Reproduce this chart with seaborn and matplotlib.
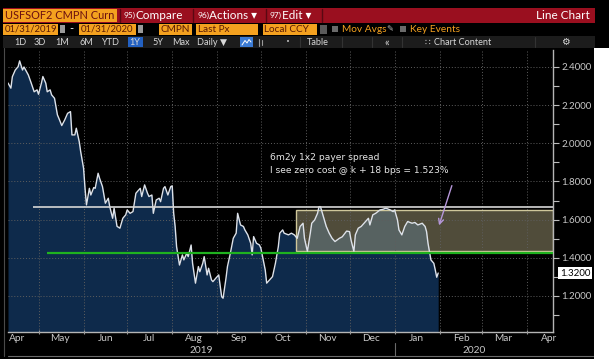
import matplotlib
matplotlib.use("Agg")
import matplotlib.pyplot as plt
import matplotlib.dates as mdates
import matplotlib.ticker as mticker
import matplotlib.transforms as mtrans
from matplotlib.patches import Rectangle
import pandas as pd
import seaborn as sns

# ---------------- data ----------------
dates = ["2019-04-10","2019-04-12","2019-04-13","2019-04-15","2019-04-17","2019-04-18","2019-04-20","2019-04-21",
         "2019-04-24","2019-04-26","2019-04-28","2019-04-30","2019-05-01","2019-05-03","2019-05-04","2019-05-06",
         "2019-05-07","2019-05-09","2019-05-10","2019-05-12","2019-05-14","2019-05-15","2019-05-17","2019-05-19",
         "2019-05-21","2019-05-23","2019-05-24","2019-05-26","2019-05-27","2019-05-29","2019-05-30","2019-06-01",
         "2019-06-02","2019-06-03","2019-06-05","2019-06-06","2019-06-08","2019-06-09","2019-06-11","2019-06-12",
         "2019-06-14","2019-06-16","2019-06-18","2019-06-19","2019-06-21","2019-06-22","2019-06-24","2019-06-26",
         "2019-06-28","2019-06-30","2019-07-01","2019-07-03","2019-07-05","2019-07-07","2019-07-08","2019-07-10",
         "2019-07-11","2019-07-13","2019-07-15","2019-07-16","2019-07-18","2019-07-19","2019-07-21","2019-07-23",
         "2019-07-24","2019-07-26","2019-07-27","2019-07-29","2019-07-31","2019-08-01","2019-08-02","2019-08-03",
         "2019-08-04","2019-08-06","2019-08-07","2019-08-08","2019-08-09","2019-08-11","2019-08-12","2019-08-14",
         "2019-08-15","2019-08-17","2019-08-19","2019-08-20","2019-08-22","2019-08-23","2019-08-25","2019-08-26",
         "2019-08-28","2019-08-29","2019-08-31","2019-09-02","2019-09-04","2019-09-05","2019-09-07","2019-09-08",
         "2019-09-10","2019-09-12","2019-09-14","2019-09-15","2019-09-17","2019-09-19","2019-09-20","2019-09-22",
         "2019-09-24","2019-09-25","2019-09-26","2019-09-28","2019-09-30","2019-10-01","2019-10-04","2019-10-05",
         "2019-10-07","2019-10-09","2019-10-11","2019-10-13","2019-10-14","2019-10-16","2019-10-17","2019-10-20",
         "2019-10-22","2019-10-24","2019-10-26","2019-10-28","2019-10-30","2019-10-31","2019-11-02","2019-11-04",
         "2019-11-05","2019-11-07","2019-11-09","2019-11-10","2019-11-11","2019-11-13","2019-11-15","2019-11-17",
         "2019-11-19","2019-11-21","2019-11-24","2019-11-26","2019-11-29","2019-12-01","2019-12-02","2019-12-04",
         "2019-12-05","2019-12-07","2019-12-09","2019-12-11","2019-12-14","2019-12-15","2019-12-17","2019-12-19",
         "2019-12-22","2019-12-24","2019-12-26","2019-12-29","2019-12-31","2020-01-01","2020-01-03","2020-01-04",
         "2020-01-06","2020-01-08","2020-01-10","2020-01-13","2020-01-15","2020-01-17","2020-01-20","2020-01-22",
         "2020-01-23","2020-01-24","2020-01-26","2020-01-28","2020-01-29","2020-01-30","2020-01-31"]

values = [2.316, 2.289, 2.349, 2.384, 2.402, 2.432, 2.384, 2.400,
          2.358, 2.315, 2.270, 2.280, 2.257, 2.315, 2.350, 2.315,
          2.270, 2.280, 2.254, 2.236, 2.149, 2.131, 2.093, 2.122,
          2.157, 2.166, 2.044, 2.044, 2.079, 2.009, 1.957, 1.869,
          1.764, 1.677, 1.764, 1.729, 1.768, 1.764, 1.843, 1.817,
          1.773, 1.686, 1.712, 1.668, 1.607, 1.660, 1.565, 1.555,
          1.607, 1.625, 1.651, 1.633, 1.642, 1.738, 1.747, 1.764,
          1.721, 1.782, 1.738, 1.721, 1.729, 1.633, 1.703, 1.712,
          1.694, 1.764, 1.773, 1.729, 1.773, 1.777, 1.633, 1.564,
          1.458, 1.362, 1.389, 1.415, 1.389, 1.424, 1.406, 1.467,
          1.371, 1.267, 1.354, 1.327, 1.371, 1.406, 1.310, 1.345,
          1.284, 1.275, 1.293, 1.310, 1.196, 1.188, 1.293, 1.354,
          1.424, 1.502, 1.529, 1.633, 1.572, 1.564, 1.546, 1.520,
          1.476, 1.415, 1.511, 1.476, 1.467, 1.450, 1.336, 1.267,
          1.284, 1.301, 1.371, 1.458, 1.529, 1.546, 1.529, 1.520,
          1.529, 1.520, 1.502, 1.564, 1.581, 1.502, 1.433, 1.529,
          1.581, 1.598, 1.633, 1.668, 1.668, 1.616, 1.564, 1.529,
          1.502, 1.485, 1.502, 1.510, 1.540, 1.537, 1.494, 1.433,
          1.520, 1.555, 1.564, 1.581, 1.607, 1.572, 1.625, 1.633,
          1.651, 1.654, 1.660, 1.651, 1.642, 1.651, 1.598, 1.546,
          1.520, 1.564, 1.590, 1.581, 1.585, 1.572, 1.581, 1.564,
          1.537, 1.476, 1.389, 1.371, 1.336, 1.298, 1.320]

ytick_values = [1.2, 1.4, 1.6, 1.8, 2.0, 2.2, 2.4]
last_value = 1.32
white_level, white_start = 1.668, "2019-04-27"
green_level, green_start = 1.426, "2019-05-07"
box_low, box_high, box_start = 1.437, 1.652, "2019-10-25"
note_lines = ["6m2y 1x2 payer spread", "I see zero cost @ k + 18 bps = 1.523%"]
year_labels = ["2019", "2020"]
ticker = "USFSOF2 CMPN Curn"
start_label, end_label = "01/31/2019", "01/31/2020"
toolbar_items = ["1D", "3D", "1M", "6M", "YTD", "1Y", "5Y", "Max", "Daily \u25bc"]

# ---------------- style ----------------
sns.set_style("ticks")
FONT = ["Lato", "DejaVu Sans"]
plt.rcParams["font.family"] = FONT
plt.rcParams["axes.unicode_minus"] = False

W, H = 609, 359
fig = plt.figure(figsize=(W / 100, H / 100), dpi=100, facecolor="black")

L, R, T, B = 8, 553, 50, 332
ax = fig.add_axes([L / W, 1 - B / H, (R - L) / W, (B - T) / H], facecolor="black")

df = pd.DataFrame({"date": pd.to_datetime(dates), "value": values})

x0 = pd.Timestamp("2019-04-10")
x1 = pd.Timestamp("2020-04-19")
y0, y1 = 1.011, 2.489

ax.fill_between(df["date"], df["value"], y0, color="#0e2a4b", linewidth=0, zorder=1)
sns.lineplot(data=df, x="date", y="value", ax=ax, color="#dde2ea", linewidth=1.0, zorder=4)

# strike box and levels
bx = mdates.date2num(pd.Timestamp(box_start))
ax.add_patch(Rectangle((bx, box_low), mdates.date2num(x1) - bx, box_high - box_low,
                       facecolor=(0.66, 0.63, 0.48, 0.48), edgecolor="#cfc79a", linewidth=1.0, zorder=2))
ax.hlines(white_level, pd.Timestamp(white_start), x1, color="#d6d6d6", linewidth=1.2, zorder=5)
ax.hlines(green_level, pd.Timestamp(green_start), x1, color="#1fb21f", linewidth=1.6, zorder=5)

ax.set_xlim(x0, x1)
ax.set_ylim(y0, y1)
ax.set_xlabel("")
ax.set_ylabel("")

# x axis: ticks at month starts, labels mid-month
ax.xaxis.set_major_locator(mdates.MonthLocator())
ax.xaxis.set_major_formatter(mticker.NullFormatter())
ax.xaxis.set_minor_locator(mdates.MonthLocator(bymonthday=16))
ax.xaxis.set_minor_formatter(mdates.DateFormatter("%b"))
ax.tick_params(axis="x", which="major", length=3, width=0.8, color="#9a9a9a", direction="inout")
ax.tick_params(axis="x", which="minor", length=0, labelsize=7.3, labelcolor="#c9c9c9", pad=1.5)

# y axis on the right
ax.yaxis.tick_right()
ax.set_yticks(ytick_values)
ax.yaxis.set_major_formatter(mticker.FormatStrFormatter("%.4f"))
ax.yaxis.set_minor_locator(mticker.MultipleLocator(0.1))
ax.tick_params(axis="y", which="both", direction="out", length=4, width=0.8, color="#bdbdbd",
               labelcolor="#c9c9c9", labelsize=7.0, pad=2)

ax.set_axisbelow(False)
ax.grid(True, which="major", color="#5e5e5e", linestyle=(0, (1, 2)), linewidth=0.7)
ax.grid(False, which="minor")

for s in ["top", "left"]:
    ax.spines[s].set_visible(False)
for s in ["right", "bottom"]:
    ax.spines[s].set_color("#b5b5b5")
    ax.spines[s].set_linewidth(1.0)

# last value tag
ax.annotate(f"{last_value:.4f}", xy=(1.0, last_value), xycoords=("axes fraction", "data"),
            xytext=(5, 0), textcoords="offset points", ha="left", va="center",
            fontsize=7.0, color="black",
            bbox=dict(boxstyle="square,pad=0.2", fc="white", ec="none"), zorder=10)

# annotation text and arrow
ax.text(pd.Timestamp("2019-10-07"), 1.923, note_lines[0], color="#e6e6e6", fontsize=6.6,
        family=["DejaVu Sans"], va="center", ha="left", zorder=6)
ax.text(pd.Timestamp("2019-10-07"), 1.860, note_lines[1], color="#e6e6e6", fontsize=6.6,
        family=["DejaVu Sans"], va="center", ha="left", zorder=6)
ax.annotate("", xy=(pd.Timestamp("2020-01-31"), 1.556), xytext=(pd.Timestamp("2020-02-10"), 1.792),
            arrowprops=dict(arrowstyle="->", color="#b697da", lw=1.0, mutation_scale=9), zorder=6)

# year labels and separator
blend = mtrans.blended_transform_factory(ax.transData, ax.transAxes)
jan1 = pd.Timestamp("2020-01-01")
ax.plot([jan1, jan1], [-0.04, -0.085], transform=blend, color="#6a6a6a", lw=0.8, clip_on=False)
ax.text(x0 + (jan1 - x0) / 2, -0.064, year_labels[0], transform=blend, ha="center", va="center",
        fontsize=7.3, color="#c9c9c9")
ax.text(jan1 + (x1 - jan1) / 2, -0.064, year_labels[1], transform=blend, ha="center", va="center",
        fontsize=7.3, color="#c9c9c9")

# ---------------- terminal chrome (pixel overlay) ----------------
ov = fig.add_axes([0, 0, 1, 1], facecolor="none", zorder=20)
ov.set_xlim(0, W)
ov.set_ylim(H, 0)
ov.axis("off")

ORANGE = "#f4a11f"
RED = "#9a0f1f"

# right white margin
ov.add_patch(Rectangle((593.5, 48), W - 593.5, H - 48, fc="white", ec="none"))
# frame lines
ov.plot([3.5, 3.5], [48, 356], color="#4a4a4a", lw=0.8)
ov.plot([8, 593], [356, 356], color="#6a6a6a", lw=0.8)

# row 1 : red bar
ov.add_patch(Rectangle((3, 8), 592, 14.5, fc=RED, ec="none"))
ov.add_patch(Rectangle((3, 9), 114, 12.5, fc=ORANGE, ec="none"))
ov.text(5, 15.5, ticker, fontsize=7.9, color="#6b1010", va="center", ha="left")
for sx in [120, 193, 266, 322]:
    ov.plot([sx, sx], [8.5, 22], color="#5a0812", lw=1.0)
ov.text(124, 15.5, "95)", fontsize=6.0, color="white", va="center")
ov.text(136, 15.5, "Compare", fontsize=8.5, color="white", va="center")
ov.text(197, 15.5, "96)", fontsize=6.0, color="white", va="center")
ov.text(209, 15.5, "Actions \u25be", fontsize=8.5, color="white", va="center")
ov.text(270, 15.5, "97)", fontsize=6.0, color="white", va="center")
ov.text(282, 15.5, "Edit \u25be", fontsize=8.5, color="white", va="center")
ov.text(590, 15.5, "Line Chart", fontsize=8.5, color="white", va="center", ha="right")

# row 2 : date range / fields
def obox(x, w, label, fs=7.2):
    ov.add_patch(Rectangle((x, 23.5), w, 11, fc=ORANGE, ec="none"))
    ov.text(x + 1.5, 29.2, label, fontsize=fs, color="#5a1a05", va="center", ha="left")

obox(3, 55, start_label, 6.8)
ov.add_patch(Rectangle((60, 25), 5, 8, fc="#9a9a9a", ec="none"))
ov.text(71, 29, "-", fontsize=8, color="white", va="center", ha="center")
obox(79, 57, end_label, 6.8)
ov.add_patch(Rectangle((138, 25), 5, 8, fc="#9a9a9a", ec="none"))
obox(159, 33, "CMPN")
obox(196, 62, "Last Px")
obox(263, 54, "Local CCY")
ov.add_patch(Rectangle((320, 24.5), 7, 9, fc="#5a5a5a", ec="none"))
ov.add_patch(Rectangle((332, 26), 6, 6, fc="#6a6a6a", ec="none"))
ov.text(342, 29.2, "Mov Avgs", fontsize=7.3, color=ORANGE, va="center")
ov.text(386, 29.2, "\u270e", fontsize=6, color="#bbbbbb", va="center", family=["DejaVu Sans"])
ov.add_patch(Rectangle((400, 26), 6, 6, fc="#6a6a6a", ec="none"))
ov.text(410, 29.2, "Key Events", fontsize=7.3, color=ORANGE, va="center")

# row 3 : toolbar
ov.add_patch(Rectangle((3, 36), 592, 12, fc="#1c1c1c", ec="none"))
tool_x = [20, 40, 62, 86, 110, 135, 158, 181, 212]
ov.add_patch(Rectangle((128, 37), 15, 10, fc="#2361c2", ec="none"))
for lab, tx in zip(toolbar_items, tool_x):
    ov.text(tx, 42.2, lab, fontsize=6.6, color="#d8d8d8", va="center", ha="center")
ov.add_patch(Rectangle((240, 37), 13, 10, fc="#3b7bd4", ec="none"))
ov.plot([242, 245, 247, 249, 251], [45, 40.5, 43, 39.5, 42], color="white", lw=0.7)
ov.plot([259, 259], [38.5, 45.5], color="#9a9a9a", lw=0.8)
ov.plot([262, 262], [39.5, 44.5], color="#9a9a9a", lw=0.8)
ov.text(288, 42.2, "\u2022", fontsize=5, color="#bdbdbd", va="center", ha="center", family=["DejaVu Sans"])
for sx in [300, 342, 372, 402, 535]:
    ov.plot([sx, sx], [37, 47], color="#333333", lw=0.8)
ov.text(318, 42.2, "Table", fontsize=6.6, color="#d8d8d8", va="center", ha="center")
ov.text(387, 42.2, "\u00ab", fontsize=8, color="#d8d8d8", va="center", ha="center")
ov.text(427, 42.2, "\u2237", fontsize=6.5, color="#cfcfcf", va="center", ha="center", family=["DejaVu Sans"])
ov.text(463, 42.2, "Chart Content", fontsize=6.6, color="#d8d8d8", va="center", ha="center")
ov.text(565, 42.2, "\u2699", fontsize=7, color="#d8d8d8", va="center", ha="center", family=["DejaVu Sans"])

fig.savefig("out.png", dpi=100, facecolor="black")
